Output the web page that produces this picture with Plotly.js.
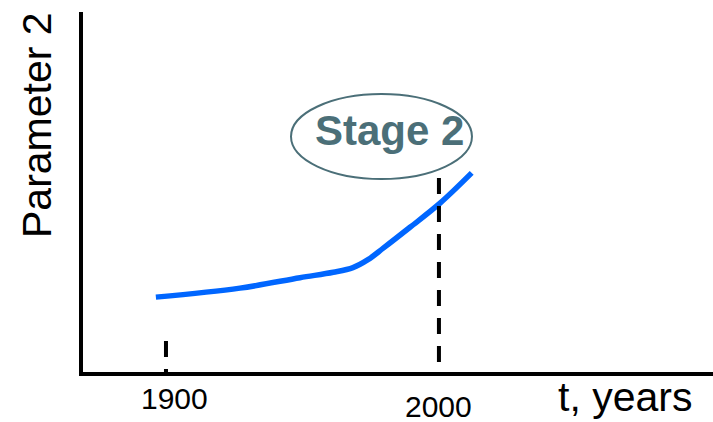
<!DOCTYPE html>
<html><head><meta charset="utf-8">
<script src="https://cdn.plot.ly/plotly-3.0.1.min.js"></script>
<style>html,body{margin:0;padding:0;background:#fff}#chart{width:713px;height:422px}</style>
</head><body><div id="chart"></div>
<script>
// Data
const curveYears = [1896.3, 1927.1, 1949.1, 1961.3, 1968.5, 1974.0, 1979.6, 1989.4, 2000.4, 2012.0];
const curveValues = [20.8, 23.3, 26.2, 27.7, 29.0, 31.2, 34.4, 40.2, 46.9, 55.3];
const markerYears = [1900, 2000];
const markerTops = [8.6, 53.9];
const tickLabels = ["1900", "2000"];
const xTitle = "t, years";
const yTitle = "Parameter 2";
const stageLabel = "Stage 2";

const FONT = "Liberation Sans, Arial, sans-serif";
const dashLines = markerYears.map((yr, i) => ({
  type: "line", xref: "x", yref: "y", x0: yr, x1: yr, y0: markerTops[i], y1: -0.8,
  line: {color: "#000", width: 4, dash: "16px,12px"}
}));
const tickShifts = [[9, 4], [0, -4]];
const tickAnns = tickLabels.map((t, i) => ({
  x: markerYears[i], y: 0, xref: "x", yref: "y", text: t, showarrow: false,
  xanchor: "center", yanchor: "top", xshift: tickShifts[i][0], yshift: -12 + tickShifts[i][1],
  font: {family: FONT, size: 30, color: "#000"}
}));

const data = [{
  x: curveYears, y: curveValues, type: "scatter", mode: "lines",
  line: {color: "#0066ff", width: 5.5, shape: "spline", smoothing: 1},
  hoverinfo: "skip"
}];

const layout = {
  width: 713, height: 422,
  margin: {l: 83, r: 0, t: 12, b: 50},
  paper_bgcolor: "#fff", plot_bgcolor: "#fff",
  showlegend: false,
  xaxis: {range: [1869.6, 2100.4], showgrid: false, zeroline: false, showticklabels: false,
          ticks: "", showline: true, linecolor: "#000", linewidth: 4},
  yaxis: {range: [0, 100], showgrid: false, zeroline: false, showticklabels: false,
          ticks: "", showline: true, linecolor: "#000", linewidth: 4},
  shapes: dashLines.concat([{
    type: "circle", xref: "x", yref: "y", x0: 1945.8, x1: 2012.1, y0: 53.6, y1: 77.2,
    line: {color: "#4b6f78", width: 2}, fillcolor: "rgba(0,0,0,0)"
  }]),
  annotations: tickAnns.concat([
    {x: 0, y: 0, xref: "paper", yref: "paper", xanchor: "center", yanchor: "middle",
     text: xTitle, showarrow: false, font: {family: FONT, size: 41, color: "#000"}},
    {x: 0, y: 0, xref: "paper", yref: "paper", xanchor: "center", yanchor: "middle",
     text: yTitle, showarrow: false, textangle: -90, font: {family: FONT, size: 41, color: "#000"}},
    {x: 1982, y: 67.2, xref: "x", yref: "y", text: "<b>" + stageLabel + "</b>", showarrow: false,
     xanchor: "center", yanchor: "middle", font: {family: FONT, size: 42, color: "#4b6f78"}}
  ])
};
// place x/y titles in pixel terms via paper coords (plot area 83..713 x 12..372)
const PW = 713 - 83, PH = 360;
layout.annotations[2].x = (625 - 83) / PW; layout.annotations[2].y = (372 - 397) / PH;
layout.annotations[3].x = (37 - 83) / PW; layout.annotations[3].y = (372 - 125) / PH;
Plotly.newPlot("chart", data, layout, {staticPlot: true, displayModeBar: false});
</script></body></html>
